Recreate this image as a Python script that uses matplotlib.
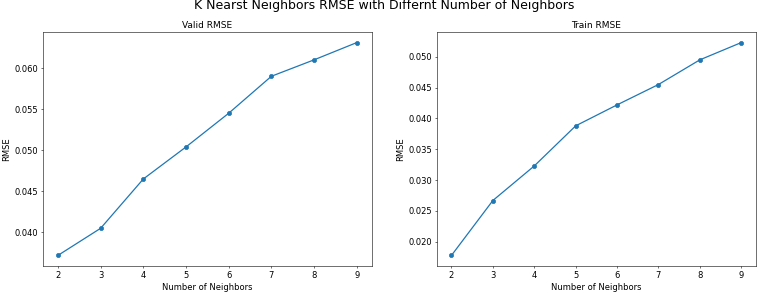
import matplotlib
matplotlib.use('Agg')
import matplotlib.pyplot as plt

neighbors = [2, 3, 4, 5, 6, 7, 8, 9]
valid_rmse = [0.0372, 0.0405, 0.0465, 0.0504, 0.0545, 0.0590, 0.0610, 0.0631]
train_rmse = [0.0178, 0.0267, 0.0323, 0.0388, 0.0422, 0.0455, 0.0495, 0.0523]

fig = plt.figure(figsize=(15.36, 5.86), dpi=50)
ax1 = fig.add_axes([0.056, 0.092, 0.428, 0.799])
ax2 = fig.add_axes([0.569, 0.092, 0.415, 0.799])

for ax, vals, title in [(ax1, valid_rmse, 'Valid RMSE'), (ax2, train_rmse, 'Train RMSE')]:
    ax.plot(neighbors, vals, marker='o', markersize=6, color='#1f77b4', linewidth=1.8)
    ax.set_title(title, fontsize=13)
    ax.set_xlabel('Number of Neighbors', fontsize=12)
    ax.set_ylabel('RMSE', fontsize=12)
    ax.set_xticks(neighbors)
    ax.tick_params(labelsize=12)

ax1.set_yticks([0.040, 0.045, 0.050, 0.055, 0.060])
ax2.set_yticks([0.020, 0.025, 0.030, 0.035, 0.040, 0.045, 0.050])

fig.suptitle('K Nearst Neighbors RMSE with Differnt Number of Neighbors', fontsize=18, y=1.005)
fig.savefig('out.png', dpi=50)
